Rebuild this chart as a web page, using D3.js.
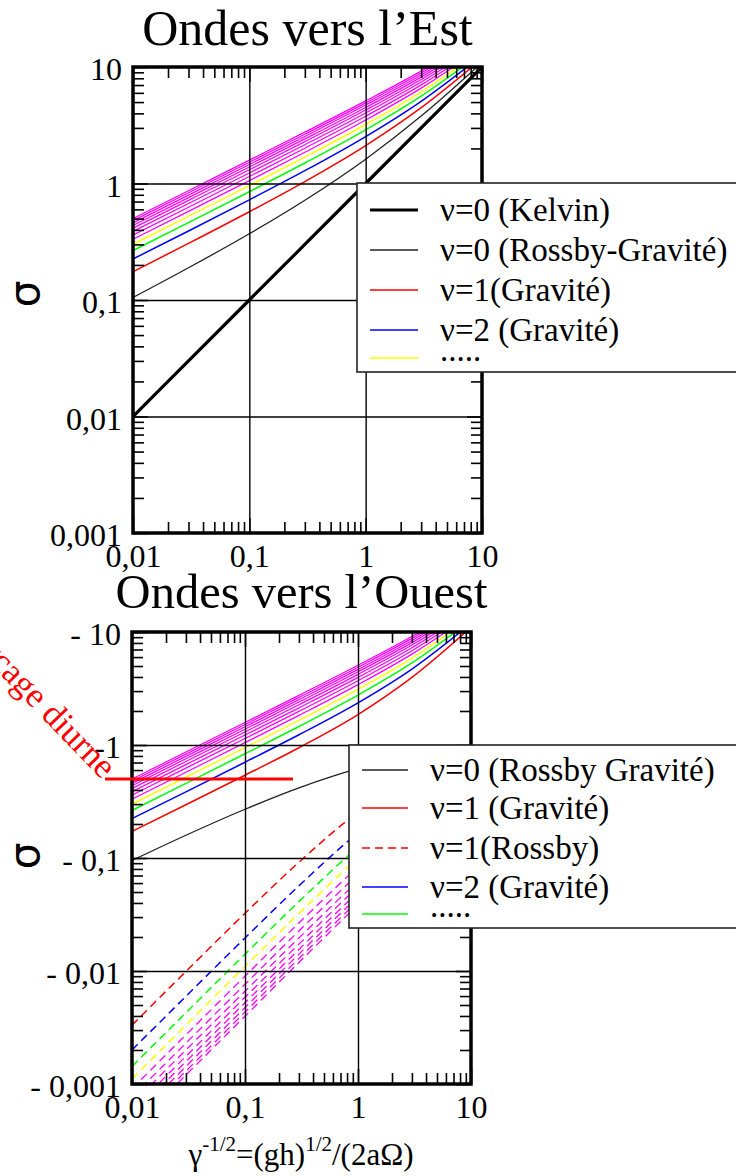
<!DOCTYPE html>
<html>
<head>
<meta charset="utf-8">
<title>Ondes équatoriales</title>
<style>
  body, html { margin: 0; padding: 0; background: #fff; }
  svg text { font-family: "Liberation Serif", "Times New Roman", serif; fill: #000; }
  .axis text { font-size: 32px; }
  .axis line { stroke: #000; stroke-width: 1.6; }
  .grid line { stroke: #000; stroke-width: 1.4; }
</style>
<script src="https://d3js.org/d3.v7.min.js"></script>
</head>
<body>
<svg id="chart" width="736" height="1176"></svg>
<script>
// abscissa samples, gamma^-1/2
const xs = [0.01, 0.03, 0.1, 0.3, 1, 3, 10];

// eastward waves
const kelvinEast = [0.01, 0.03, 0.1, 0.3, 1, 3, 10];
const yanaiEast = [0.105, 0.189, 0.370, 0.718, 1.618, 3.791, 10.92];
const gravityEast = [
  [0.175, 0.306, 0.572, 1.038, 2.115, 4.474, 11.77],
  [0.225, 0.391, 0.724, 1.288, 2.529, 5.077, 12.57],
  [0.266, 0.461, 0.850, 1.500, 2.889, 5.622, 13.32],
  [0.301, 0.522, 0.959, 1.686, 3.211, 6.121, 14.04],
  [0.332, 0.577, 1.058, 1.854, 3.505, 6.585, 14.72],
  [0.361, 0.626, 1.148, 2.009, 3.777, 7.020, 15.38],
  [0.388, 0.673, 1.232, 2.152, 4.031, 7.430, 16.01],
  [0.413, 0.716, 1.311, 2.287, 4.270, 7.820, 16.61],
  [0.436, 0.756, 1.385, 2.414, 4.497, 8.192, 17.20],
  [0.459, 0.795, 1.455, 2.535, 4.713, 8.547, 17.77],
  [0.480, 0.832, 1.522, 2.650, 4.920, 8.889, 18.32],
  [0.500, 0.867, 1.586, 2.761, 5.118, 9.218, 18.85]
];

// westward waves (|sigma|)
const yanaiWest = [0.0951, 0.159, 0.270, 0.418, 0.618, 0.791, 0.916];
const gravityWest = [
  [0.172, 0.296, 0.540, 0.946, 1.861, 3.966, 11.00],
  [0.223, 0.385, 0.704, 1.232, 2.362, 4.700, 11.90],
  [0.264, 0.457, 0.836, 1.459, 2.764, 5.321, 12.73],
  [0.300, 0.519, 0.948, 1.654, 3.111, 5.871, 13.51],
  [0.331, 0.574, 1.049, 1.828, 3.422, 6.371, 14.25],
  [0.360, 0.624, 1.141, 1.986, 3.706, 6.833, 14.94],
  [0.387, 0.671, 1.226, 2.133, 3.968, 7.264, 15.61],
  [0.412, 0.714, 1.305, 2.270, 4.215, 7.670, 16.25],
  [0.436, 0.755, 1.379, 2.399, 4.447, 8.055, 16.85],
  [0.458, 0.794, 1.450, 2.521, 4.668, 8.422, 17.44],
  [0.480, 0.831, 1.518, 2.637, 4.878, 8.774, 18.01],
  [0.500, 0.866, 1.582, 2.749, 5.080, 9.111, 18.56]
];
const rossbyWest = [
  [0.00332, 0.00991, 0.0324, 0.0917, 0.254, 0.507, 0.773],
  [0.00200, 0.00597, 0.0196, 0.0567, 0.167, 0.377, 0.669],
  [0.00143, 0.00427, 0.0141, 0.0411, 0.125, 0.301, 0.589],
  [0.00111, 0.00332, 0.0110, 0.0323, 0.100, 0.250, 0.527],
  [0.000908, 0.00272, 0.00901, 0.0266, 0.0834, 0.215, 0.477],
  [0.000769, 0.00230, 0.00763, 0.0226, 0.0715, 0.188, 0.435],
  [0.000666, 0.00200, 0.00662, 0.0196, 0.0625, 0.167, 0.400],
  [0.000588, 0.00176, 0.00585, 0.0173, 0.0556, 0.150, 0.371],
  [0.000526, 0.00158, 0.00524, 0.0155, 0.0500, 0.136, 0.345],
  [0.000476, 0.00143, 0.00474, 0.0141, 0.0455, 0.125, 0.323],
  [0.000435, 0.00130, 0.00433, 0.0129, 0.0417, 0.115, 0.303],
  [0.000400, 0.00120, 0.00398, 0.0119, 0.0385, 0.107, 0.286]
];

// colour of mode nu = 1, 2, 3, ...
const modeColors = ['#ff0000', '#0000ff', '#00ff00', '#ffff00',
  '#ff00ff', '#ff00ff', '#ff00ff', '#ff00ff', '#ff00ff', '#ff00ff', '#ff00ff', '#ff00ff'];

const xTicks = [0.01, 0.1, 1, 10];
const xTickLabels = ['0,01', '0,1', '1', '10'];
const yTicks = [0.001, 0.01, 0.1, 1, 10];
const yLabelsEast = ['0,001', '0,01', '0,1', '1', '10'];
const yLabelsWest = ['- 0,001', '- 0,01', '- 0,1', '-1', '- 10'];

// diurnal forcing marker
const diurnalX = [0.00577, 0.266];
const diurnalSigma = 0.5;

const serif = '"Liberation Serif", "Times New Roman", serif';
const svg = d3.select('#chart');

function toPoints(vals) {
  return xs.map((v, i) => [v, vals[i]]);
}

function drawPanel(p) {
  const x = d3.scaleLog().domain([0.01, 10]).range([p.left, p.right]);
  const y = d3.scaleLog().domain([0.001, 10]).range([p.bottom, p.top]);
  const w = p.right - p.left, h = p.bottom - p.top;
  const g = svg.append('g');

  g.append('clipPath').attr('id', p.id + '-clip')
    .append('rect').attr('x', p.left).attr('y', p.top).attr('width', w).attr('height', h);

  const line = d3.line()
    .x(d => x(d[0]))
    .y(d => y(d[1]))
    .curve(d3.curveMonotoneX);

  const curves = g.append('g').attr('clip-path', `url(#${p.id}-clip)`);
  p.series.forEach(s => {
    curves.append('path')
      .attr('d', line(toPoints(s.values)))
      .attr('fill', 'none')
      .attr('stroke', s.color)
      .attr('stroke-width', s.width)
      .attr('stroke-dasharray', s.dash || null);
  });

  // grid
  g.append('g').attr('class', 'grid')
    .attr('transform', `translate(0,${p.bottom})`)
    .call(d3.axisBottom(x).tickValues(xTicks.slice(1, -1)).tickSize(-h).tickFormat(''))
    .call(a => a.select('.domain').remove());
  g.append('g').attr('class', 'grid')
    .attr('transform', `translate(${p.left},0)`)
    .call(d3.axisLeft(y).tickValues(yTicks.slice(1, -1)).tickSize(-w).tickFormat(''))
    .call(a => a.select('.domain').remove());

  const minorX = x.ticks().filter(v => !xTicks.some(t => Math.abs(t - v) < 1e-9));
  const minorY = y.ticks().filter(v => !yTicks.some(t => Math.abs(t - v) < 1e-9));

  // minor ticks on all sides, pointing inward
  const minor = [
    [d3.axisBottom(x).tickValues(minorX), `translate(0,${p.bottom})`],
    [d3.axisTop(x).tickValues(minorX), `translate(0,${p.top})`],
    [d3.axisLeft(y).tickValues(minorY), `translate(${p.left},0)`],
    [d3.axisRight(y).tickValues(minorY), `translate(${p.right},0)`]
  ];
  minor.forEach(([ax, tr]) => {
    g.append('g').attr('class', 'axis').attr('transform', tr)
      .call(ax.tickSize(-11).tickSizeOuter(0).tickFormat(''))
      .call(a => a.select('.domain').remove());
  });

  // labelled axes
  g.append('g').attr('class', 'axis')
    .attr('transform', `translate(0,${p.bottom})`)
    .call(d3.axisBottom(x).tickValues(xTicks).tickSize(-15).tickSizeOuter(0).tickPadding(11)
      .tickFormat((d, i) => xTickLabels[i]))
    .call(a => a.select('.domain').remove())
    .call(a => a.selectAll('text').style('font-family', serif));
  g.append('g').attr('class', 'axis')
    .attr('transform', `translate(${p.left},0)`)
    .call(d3.axisLeft(y).tickValues(yTicks).tickSize(-15).tickSizeOuter(0).tickPadding(11)
      .tickFormat((d, i) => p.yLabels[i]))
    .call(a => a.select('.domain').remove())
    .call(a => a.selectAll('text').attr('dy', '0.4em').style('font-family', serif));
  g.append('g').attr('class', 'axis')
    .attr('transform', `translate(0,${p.top})`)
    .call(d3.axisTop(x).tickValues(xTicks).tickSize(-15).tickSizeOuter(0).tickFormat(''))
    .call(a => a.select('.domain').remove());
  g.append('g').attr('class', 'axis')
    .attr('transform', `translate(${p.right},0)`)
    .call(d3.axisRight(y).tickValues(yTicks).tickSize(-15).tickSizeOuter(0).tickFormat(''))
    .call(a => a.select('.domain').remove());

  // frame
  g.append('rect')
    .attr('x', p.left).attr('y', p.top).attr('width', w).attr('height', h)
    .attr('fill', 'none').attr('stroke', '#000').attr('stroke-width', 3.5);

  // title
  g.append('text')
    .attr('x', (p.left + p.right) / 2).attr('y', p.titleY)
    .attr('text-anchor', 'middle').style('font-size', p.titleSize + 'px')
    .text(p.title);

  // sigma label
  g.append('text')
    .attr('transform', `translate(${p.sigmaX},${p.sigmaY}) rotate(-90)`)
    .attr('text-anchor', 'middle')
    .style('font-family', '"DejaVu Sans", sans-serif')
    .style('font-size', '42px')
    .attr('dy', '0.3em')
    .text('σ');

  // legend
  const lg = g.append('g');
  lg.append('rect')
    .attr('x', p.legend.x).attr('y', p.legend.y)
    .attr('width', 800 - p.legend.x).attr('height', p.legend.h)
    .attr('fill', '#fff').attr('stroke', '#222').attr('stroke-width', 1.6);
  p.legend.items.forEach(it => {
    lg.append('line')
      .attr('x1', p.legend.lx1).attr('x2', p.legend.lx2)
      .attr('y1', it.y).attr('y2', it.y)
      .attr('stroke', it.color).attr('stroke-width', it.width)
      .attr('stroke-dasharray', it.dash || null);
    lg.append('text')
      .attr('x', p.legend.tx).attr('y', it.y + (it.label === '.....' ? 3 : 11))
      .style('font-size', '33px')
      .text(it.label);
  });

  return {x, y};
}

// eastward panel
const eastSeries = [{values: kelvinEast, color: '#000', width: 3.2},
  {values: yanaiEast, color: '#222', width: 1.3}];
gravityEast.forEach((v, i) => eastSeries.push({values: v, color: modeColors[i], width: i < 4 ? 1.5 : 1.25}));
// draw high modes first so low modes stay on top
eastSeries.reverse();

drawPanel({
  id: 'east', left: 133, right: 482, top: 67, bottom: 533,
  title: 'Ondes vers l’Est', titleY: 45, titleSize: 50,
  sigmaX: 26, sigmaY: 294,
  yLabels: yLabelsEast,
  series: eastSeries,
  legend: {
    x: 357, y: 183, h: 189, lx1: 370, lx2: 418, tx: 440,
    items: [
      {y: 210, color: '#000', width: 3.2, label: 'ν=0 (Kelvin)'},
      {y: 250, color: '#222', width: 1.3, label: 'ν=0 (Rossby-Gravité)'},
      {y: 290, color: modeColors[0], width: 1.5, label: 'ν=1(Gravité)'},
      {y: 330, color: modeColors[1], width: 1.5, label: 'ν=2 (Gravité)'},
      {y: 358, color: modeColors[3], width: 1.5, label: '.....'}
    ]
  }
});

// westward panel
const westSeries = [];
rossbyWest.forEach((v, i) => westSeries.push({values: v, color: modeColors[i], width: i < 4 ? 1.5 : 1.3, dash: '8,5'}));
westSeries.push({values: yanaiWest, color: '#222', width: 1.3});
gravityWest.forEach((v, i) => westSeries.push({values: v, color: modeColors[i], width: i < 4 ? 1.5 : 1.25}));
westSeries.reverse();

const west = drawPanel({
  id: 'west', left: 132, right: 471, top: 632, bottom: 1084,
  title: 'Ondes vers l’Ouest', titleY: 608, titleSize: 48.5,
  sigmaX: 26, sigmaY: 856,
  yLabels: yLabelsWest,
  series: westSeries,
  legend: {
    x: 349, y: 745, h: 183, lx1: 362, lx2: 408, tx: 430,
    items: [
      {y: 770, color: '#222', width: 1.3, label: 'ν=0 (Rossby Gravité)'},
      {y: 808, color: modeColors[0], width: 1.5, label: 'ν=1 (Gravité)'},
      {y: 848, color: modeColors[0], width: 1.5, dash: '8,5', label: 'ν=1(Rossby)'},
      {y: 887, color: modeColors[1], width: 1.5, label: 'ν=2 (Gravité)'},
      {y: 914, color: modeColors[2], width: 1.5, label: '.....'}
    ]
  }
});

// diurnal forcing line and label
svg.append('line')
  .attr('x1', west.x(diurnalX[0])).attr('x2', west.x(diurnalX[1]))
  .attr('y1', west.y(diurnalSigma)).attr('y2', west.y(diurnalSigma))
  .attr('stroke', '#ff0000').attr('stroke-width', 3.2);
svg.append('text')
  .attr('transform', `translate(${west.x(diurnalX[0]) - 3},${west.y(diurnalSigma) + 1}) rotate(46)`)
  .attr('text-anchor', 'end')
  .style('font-size', '35px').style('fill', '#ff0000')
  .text('Forçage diurne');

// x axis title
const xt = svg.append('text')
  .attr('x', 301).attr('y', 1165)
  .attr('text-anchor', 'middle')
  .style('font-size', '31px');
xt.append('tspan').text('γ');
xt.append('tspan').attr('dy', -14).style('font-size', '21px').text('-1/2');
xt.append('tspan').attr('dy', 14).text('=(gh)');
xt.append('tspan').attr('dy', -14).style('font-size', '21px').text('1/2');
xt.append('tspan').attr('dy', 14).text('/(2aΩ)');
</script>
</body>
</html>
